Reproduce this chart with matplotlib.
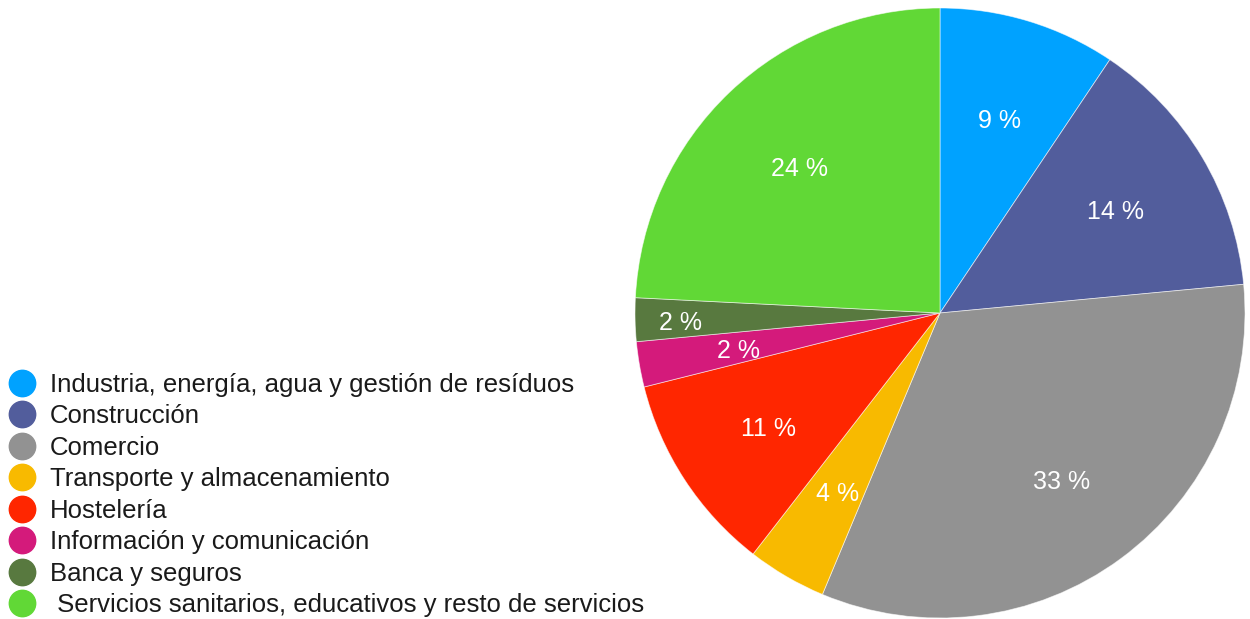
import matplotlib.pyplot as plt
from matplotlib.lines import Line2D

# Sectores (en orden horario desde arriba)
sectores = [
    "Industria, energía, agua y gestión de resíduos",
    "Construcción",
    "Comercio",
    "Transporte y almacenamiento",
    "Hostelería",
    "Información y comunicación",
    "Banca y seguros",
    " Servicios sanitarios, educativos y resto de servicios",
]
porcentajes = [9.4, 14.1, 32.8, 4.2, 10.6, 2.4, 2.3, 24.2]
colores = ["#00A2FF", "#525D9C", "#929292", "#F8BA00",
           "#FF2600", "#D41A7B", "#58793F", "#61D836"]

plt.rcParams['font.family'] = ['Liberation Sans', 'DejaVu Sans']

fig = plt.figure(figsize=(12.5, 6.19), dpi=100)

# Pastel: centro (940, 313), radio 305 px
ax = fig.add_axes([635 / 1250, 1 / 619, 610 / 1250, 610 / 619])
cunas, textos, autotextos = ax.pie(
    porcentajes, colors=colores, startangle=90, counterclock=False,
    radius=1, autopct='%.0f %%', pctdistance=0.67,
    wedgeprops=dict(edgecolor=(1, 1, 1, 0.6), linewidth=0.6),
    textprops=dict(color='white', fontsize=18))
ax.set_xlim(-1, 1)
ax.set_ylim(-1, 1)
ax.set_aspect('equal')
ax.axis('off')

# etiquetas un poco más abajo; "Banca y seguros" más afuera
for i, t in enumerate(autotextos):
    x, y = t.get_position()
    if i == 6:
        x, y = x * 0.85 / 0.67, y * 0.85 / 0.67
    t.set_position((x, y - 0.013))

# Leyenda
manejadores = [Line2D([], [], marker='o', linestyle='none', markersize=19,
                      markerfacecolor=c, markeredgecolor=c) for c in colores]
fig.legend(manejadores, sectores, loc='upper left',
           bbox_to_anchor=(2 / 1250, 1 - 373 / 619), frameon=False,
           prop=dict(size=18.5), labelcolor='#1a1a1a', labelspacing=0.29,
           handletextpad=0.3, borderpad=0, borderaxespad=0,
           handlelength=1.55)

fig.savefig("out.png", dpi=100)
